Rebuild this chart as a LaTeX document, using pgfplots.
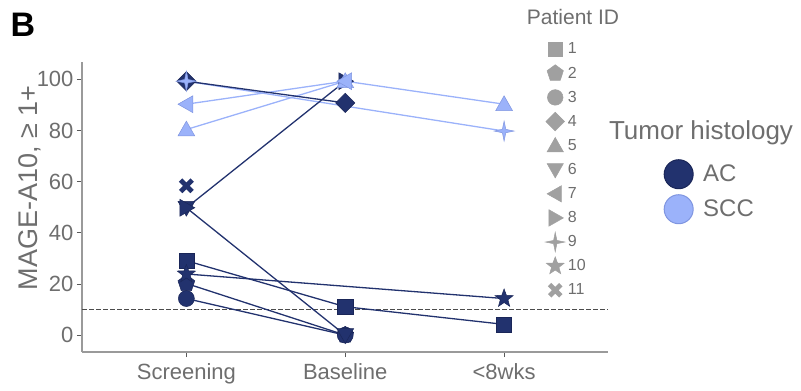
\documentclass[border=0pt]{standalone}
\usepackage{fontspec}
\setmainfont{Liberation Sans}
\usepackage{pgfplots}
\usepackage{pgfplotstable}
\pgfplotsset{compat=1.18}

\definecolor{ac}{HTML}{22326E}
\definecolor{acedge}{HTML}{1A2658}
\definecolor{scc}{HTML}{9BB2FA}
\definecolor{sccedge}{HTML}{7F95E0}
\definecolor{txtgray}{HTML}{6E6E6E}
\definecolor{axgray}{HTML}{9A9A9A}
\definecolor{mkgray}{HTML}{A0A0A0}

\pgfdeclareplotmark{msq}{\pgfpathrectangle{\pgfqpoint{-0.95\pgfplotmarksize}{-0.95\pgfplotmarksize}}{\pgfqpoint{1.9\pgfplotmarksize}{1.9\pgfplotmarksize}}\pgfusepathqfillstroke}
\pgfdeclareplotmark{mcirc}{\pgfpathcircle{\pgfpointorigin}{\pgfplotmarksize}\pgfusepathqfillstroke}
\pgfdeclareplotmark{mpent}{%
 \pgfpathmoveto{\pgfpointpolar{90}{1.1\pgfplotmarksize}}%
 \pgfpathlineto{\pgfpointpolar{162}{1.1\pgfplotmarksize}}%
 \pgfpathlineto{\pgfpointpolar{234}{1.1\pgfplotmarksize}}%
 \pgfpathlineto{\pgfpointpolar{306}{1.1\pgfplotmarksize}}%
 \pgfpathlineto{\pgfpointpolar{18}{1.1\pgfplotmarksize}}%
 \pgfpathclose\pgfusepathqfillstroke}
\pgfdeclareplotmark{mdiam}{%
 \pgfpathmoveto{\pgfqpoint{0pt}{1.2\pgfplotmarksize}}%
 \pgfpathlineto{\pgfqpoint{1.2\pgfplotmarksize}{0pt}}%
 \pgfpathlineto{\pgfqpoint{0pt}{-1.2\pgfplotmarksize}}%
 \pgfpathlineto{\pgfqpoint{-1.2\pgfplotmarksize}{0pt}}%
 \pgfpathclose\pgfusepathqfillstroke}
\pgfdeclareplotmark{mup}{%
 \pgfpathmoveto{\pgfqpoint{0pt}{1.05\pgfplotmarksize}}%
 \pgfpathlineto{\pgfqpoint{1.05\pgfplotmarksize}{-0.8\pgfplotmarksize}}%
 \pgfpathlineto{\pgfqpoint{-1.05\pgfplotmarksize}{-0.8\pgfplotmarksize}}%
 \pgfpathclose\pgfusepathqfillstroke}
\pgfdeclareplotmark{mdown}{%
 \pgfpathmoveto{\pgfqpoint{0pt}{-1.05\pgfplotmarksize}}%
 \pgfpathlineto{\pgfqpoint{1.05\pgfplotmarksize}{0.8\pgfplotmarksize}}%
 \pgfpathlineto{\pgfqpoint{-1.05\pgfplotmarksize}{0.8\pgfplotmarksize}}%
 \pgfpathclose\pgfusepathqfillstroke}
\pgfdeclareplotmark{mleft}{%
 \pgfpathmoveto{\pgfqpoint{-1.05\pgfplotmarksize}{0pt}}%
 \pgfpathlineto{\pgfqpoint{0.8\pgfplotmarksize}{1.05\pgfplotmarksize}}%
 \pgfpathlineto{\pgfqpoint{0.8\pgfplotmarksize}{-1.05\pgfplotmarksize}}%
 \pgfpathclose\pgfusepathqfillstroke}
\pgfdeclareplotmark{mright}{%
 \pgfpathmoveto{\pgfqpoint{1.05\pgfplotmarksize}{0pt}}%
 \pgfpathlineto{\pgfqpoint{-0.8\pgfplotmarksize}{1.05\pgfplotmarksize}}%
 \pgfpathlineto{\pgfqpoint{-0.8\pgfplotmarksize}{-1.05\pgfplotmarksize}}%
 \pgfpathclose\pgfusepathqfillstroke}
\pgfdeclareplotmark{mspark}{%
 \pgfpathmoveto{\pgfpointpolar{90}{1.25\pgfplotmarksize}}%
 \pgfpathlineto{\pgfpointpolar{135}{0.3\pgfplotmarksize}}%
 \pgfpathlineto{\pgfpointpolar{180}{1.25\pgfplotmarksize}}%
 \pgfpathlineto{\pgfpointpolar{225}{0.3\pgfplotmarksize}}%
 \pgfpathlineto{\pgfpointpolar{270}{1.25\pgfplotmarksize}}%
 \pgfpathlineto{\pgfpointpolar{315}{0.3\pgfplotmarksize}}%
 \pgfpathlineto{\pgfpointpolar{0}{1.25\pgfplotmarksize}}%
 \pgfpathlineto{\pgfpointpolar{45}{0.3\pgfplotmarksize}}%
 \pgfpathclose\pgfusepathqfillstroke}
\pgfdeclareplotmark{mstar}{%
 \pgfpathmoveto{\pgfpointpolar{90}{1.2\pgfplotmarksize}}%
 \pgfpathlineto{\pgfpointpolar{126}{0.5\pgfplotmarksize}}%
 \pgfpathlineto{\pgfpointpolar{162}{1.2\pgfplotmarksize}}%
 \pgfpathlineto{\pgfpointpolar{198}{0.5\pgfplotmarksize}}%
 \pgfpathlineto{\pgfpointpolar{234}{1.2\pgfplotmarksize}}%
 \pgfpathlineto{\pgfpointpolar{270}{0.5\pgfplotmarksize}}%
 \pgfpathlineto{\pgfpointpolar{306}{1.2\pgfplotmarksize}}%
 \pgfpathlineto{\pgfpointpolar{342}{0.5\pgfplotmarksize}}%
 \pgfpathlineto{\pgfpointpolar{18}{1.2\pgfplotmarksize}}%
 \pgfpathlineto{\pgfpointpolar{54}{0.5\pgfplotmarksize}}%
 \pgfpathclose\pgfusepathqfillstroke}
\pgfdeclareplotmark{mx}{%
 \pgfsetlinewidth{0.6\pgfplotmarksize}%
 \pgfpathmoveto{\pgfqpoint{-0.72\pgfplotmarksize}{-0.72\pgfplotmarksize}}%
 \pgfpathlineto{\pgfqpoint{0.72\pgfplotmarksize}{0.72\pgfplotmarksize}}%
 \pgfpathmoveto{\pgfqpoint{-0.72\pgfplotmarksize}{0.72\pgfplotmarksize}}%
 \pgfpathlineto{\pgfqpoint{0.72\pgfplotmarksize}{-0.72\pgfplotmarksize}}%
 \pgfusepathqstroke}

\pgfplotstableread{
t p1 p2 p3 p4 p5 p6 p7 p8 p9 p10 p11
1 29.1 20.2 14.3 99.3 80.4 49.8 90.3 49.8 99.3 23.9 58.4
2 11.1 0 0 90.8 99.3 0 99.3 99.3 nan nan nan
3 4.2 nan nan nan 90.3 nan nan nan 79.8 14.3 nan
}\data

\pgfplotsset{
 acl/.style={color=ac, line width=1.3pt, no marks, forget plot},
 sccl/.style={color=scc, line width=1.3pt, no marks, forget plot},
 acm/.style={only marks, forget plot, mark size=8pt, mark options={fill=ac, draw=acedge, line width=0.5pt}},
 sccm/.style={only marks, forget plot, mark size=8pt, mark options={fill=scc, draw=sccedge, line width=0.5pt}},
 gm/.style={only marks, mark size=7.8pt, mark options={fill=mkgray, draw=mkgray, line width=0.5pt}},
}

\begin{document}
\begin{tikzpicture}
\useasboundingbox (0pt,0pt) rectangle (801pt,391pt);
\begin{axis}[
 at={(82pt,39pt)}, anchor=south west, scale only axis, width=526pt, height=290pt,
 xmin=0.343, xmax=3.654, ymin=-6.6, ymax=106.8,
 axis x line*=bottom, axis y line*=left,
 axis line style={axgray, line width=1.1pt, -},
 xtick={1,2,3}, xticklabels={Screening,Baseline,{<8wks}},
 ytick={0,20,40,60,80,100},
 tick align=outside, major tick length=5pt,
 tick style={color=black!65, line width=0.8pt},
 tick label style={text=txtgray},
 xticklabel style={font=\fontsize{22}{22}\selectfont, yshift=-3pt},
 yticklabel style={font=\fontsize{22}{22}\selectfont},
 /pgf/number format/assume math mode=true,
 clip=false,
]
\addplot[forget plot, color=black!70, line width=0.9pt, dash pattern=on 4.5pt off 2.5pt] coordinates {(0.343,10) (3.654,10)};
% lines
\addplot[sccl] table[x=t,y=p5]{\data};
\addplot[sccl] table[x=t,y=p7]{\data};
\addplot[sccl] table[x=t,y=p9]{\data};
\addplot[acl] table[x=t,y=p1]{\data};
\addplot[acl] table[x=t,y=p2]{\data};
\addplot[acl] table[x=t,y=p3]{\data};
\addplot[acl] table[x=t,y=p4]{\data};
\addplot[acl] table[x=t,y=p6]{\data};
\addplot[acl] table[x=t,y=p8]{\data};
\addplot[acl] table[x=t,y=p10]{\data};
% points AC
\addplot[acm, mark=msq] table[x=t,y=p1]{\data};
\addplot[acm, mark=mpent] table[x=t,y=p2]{\data};
\addplot[acm, mark=mcirc] table[x=t,y=p3]{\data};
\addplot[acm, mark=mdiam] table[x=t,y=p4]{\data};
\addplot[acm, mark=mdown] table[x=t,y=p6]{\data};
\addplot[acm, mark=mright] table[x=t,y=p8]{\data};
\addplot[acm, mark=mstar] table[x=t,y=p10]{\data};
\addplot[acm, mark=mx, mark options={draw=ac}] table[x=t,y=p11]{\data};
% points SCC
\addplot[sccm, mark=mup] table[x=t,y=p5]{\data};
\addplot[sccm, mark=mleft] table[x=t,y=p7]{\data};
\addplot[sccm, mark=mspark] table[x=t,y=p9]{\data};
\end{axis}

% Patient ID legend
\begin{axis}[
 at={(0pt,0pt)}, anchor=south west, scale only axis, width=801pt, height=391pt,
 xmin=0, xmax=1, ymin=0, ymax=1, hide axis,
 legend image code/.code={\draw[#1] plot coordinates {(0pt,0pt)};},
 legend cell align=left,
 legend style={draw=none, fill=none, at={(0.677,0.9105)}, anchor=north west,
   row sep=0pt, column sep=3pt, font=\fontsize{16}{16}\selectfont, text=txtgray,
   nodes={inner sep=0pt, minimum height=24.1pt}},
]
\addlegendimage{gm, mark=msq}
\addlegendimage{gm, mark=mpent}
\addlegendimage{gm, mark=mcirc}
\addlegendimage{gm, mark=mdiam}
\addlegendimage{gm, mark=mup}
\addlegendimage{gm, mark=mdown}
\addlegendimage{gm, mark=mleft}
\addlegendimage{gm, mark=mright}
\addlegendimage{gm, mark=mspark}
\addlegendimage{gm, mark=mstar}
\addlegendimage{gm, mark=mx}
\legend{1,2,3,4,5,6,7,8,9,10,11}
\end{axis}

% Tumor histology legend
\begin{axis}[
 at={(0pt,0pt)}, anchor=south west, scale only axis, width=801pt, height=391pt,
 xmin=0, xmax=1, ymin=0, ymax=1, hide axis,
 legend image code/.code={\draw[#1] plot coordinates {(0pt,0pt)};},
 legend cell align=left,
 legend style={draw=none, fill=none, at={(0.8252,0.6048)}, anchor=north west,
   row sep=0pt, column sep=10pt, font=\fontsize{24}{24}\selectfont, text=txtgray,
   nodes={inner sep=0pt, minimum height=35pt}},
]
\addlegendimage{only marks, mark=mcirc, mark size=14.5pt, mark options={fill=ac, draw=acedge, line width=1pt}}
\addlegendimage{only marks, mark=mcirc, mark size=14.5pt, mark options={fill=scc, draw=sccedge, line width=1pt}}
\legend{AC,SCC}
\end{axis}

\node[rotate=90, text=txtgray, font=\fontsize{27}{27}\selectfont] at (30pt,203pt) {MAGE-A10, ≥ 1+};
\node[text=txtgray, font=\fontsize{21}{21}\selectfont] at (573pt,374pt) {Patient ID};
\node[text=txtgray, font=\fontsize{26}{26}\selectfont] at (701pt,258pt) {Tumor histology};
\node[font=\fontsize{34}{34}\selectfont\bfseries] at (23pt,366pt) {B};
\end{tikzpicture}
\end{document}
